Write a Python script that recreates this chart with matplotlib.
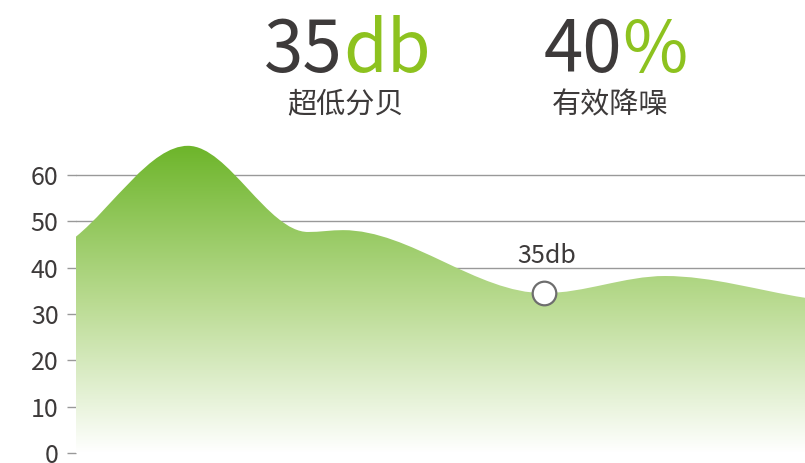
import numpy as np
import matplotlib
matplotlib.use("Agg")
import matplotlib.pyplot as plt
from matplotlib.path import Path
from matplotlib.patches import PathPatch
from matplotlib.colors import LinearSegmentedColormap

plt.rcParams['font.family'] = ['Noto Sans CJK SC', 'DejaVu Sans']

# 曲线数据（横向位置, 分贝值）
x_pos = [0, 112, 232, 267, 468, 589, 729]
db_vals = [46.7, 66.3, 47.7, 48.1, 34.5, 38.2, 33.5]
y_ticks = [0, 10, 20, 30, 40, 50, 60]

# 标注点
mark_x = 468
mark_y = 34.5
mark_label = "35db"

# 顶部数字
stat_nums = ["35", "40"]
stat_units = ["db", "%"]
stat_names = ["超低分贝", "有效降噪"]

dark = "#3d3a3a"
green = "#8dc21f"


def monotone_tangents(xs, ys):
    x = np.asarray(xs, float)
    y = np.asarray(ys, float)
    h = np.diff(x)
    d = np.diff(y) / h
    m = np.zeros_like(y)
    m[0], m[-1] = d[0], d[-1]
    for i in range(1, len(y) - 1):
        if d[i - 1] * d[i] <= 0:
            m[i] = 0
        else:
            w1 = 2 * h[i] + h[i - 1]
            w2 = h[i] + 2 * h[i - 1]
            m[i] = (w1 + w2) / (w1 / d[i - 1] + w2 / d[i])
    return m


def smooth_area(xs, ys):
    m = monotone_tangents(xs, ys)
    verts = [(xs[0], 0), (xs[0], ys[0])]
    codes = [Path.MOVETO, Path.LINETO]
    for i in range(len(xs) - 1):
        h = xs[i + 1] - xs[i]
        verts += [(xs[i] + h / 3, ys[i] + m[i] * h / 3),
                  (xs[i + 1] - h / 3, ys[i + 1] - m[i + 1] * h / 3),
                  (xs[i + 1], ys[i + 1])]
        codes += [Path.CURVE4] * 3
    verts += [(xs[-1], 0), (xs[0], 0)]
    codes += [Path.LINETO, Path.CLOSEPOLY]
    return Path(verts, codes)


fig = plt.figure(figsize=(8.05, 4.63), dpi=100)
ax = fig.add_axes([0.0944, 0.0216, 0.9056, 0.7005])

ax.set_xlim(0, 729)
ax.set_ylim(0, 70)
for s in ax.spines.values():
    s.set_visible(False)
ax.set_xticks([])
ax.set_yticks(y_ticks)
ax.tick_params(axis='y', length=6.5, width=1.0, color='#999999', pad=6,
               labelsize=18, labelcolor=dark)
ax.grid(axis='y', color='#999999', linewidth=1.0)
ax.set_axisbelow(True)

# 渐变填充
cmap = LinearSegmentedColormap.from_list("g", ["#ffffff", "#b8da8f", "#6db52a"])
patch = PathPatch(smooth_area(x_pos, db_vals), facecolor='none', edgecolor='none')
ax.add_patch(patch)
grad = np.linspace(0, 1, 256).reshape(-1, 1)
img = ax.imshow(grad, cmap=cmap, origin='lower', aspect='auto',
                extent=[0, 729, 0, max(db_vals)], zorder=2)
img.set_clip_path(patch)

ax.plot([mark_x], [mark_y], marker='o', markersize=17, markerfacecolor='white',
        markeredgecolor='#6e6e6e', markeredgewidth=1.6, zorder=4, clip_on=False)
ax.text(mark_x + 3, mark_y + 6.5, mark_label, ha='center', va='baseline',
        fontsize=18, color=dark, zorder=5)

# 顶部统计
splits = [343, 622]
centers = [345, 610]
for sp, c, num, unit, name in zip(splits, centers, stat_nums, stat_units, stat_names):
    fig.text(sp / 805, 0.8445, num, ha='right', va='baseline', fontsize=51, color=dark)
    fig.text(sp / 805, 0.8445, unit, ha='left', va='baseline', fontsize=51, color=green)
    fig.text(c / 805, 0.773, name, ha='center', va='center', fontsize=21, color=dark)

fig.savefig("out.png", dpi=100)
